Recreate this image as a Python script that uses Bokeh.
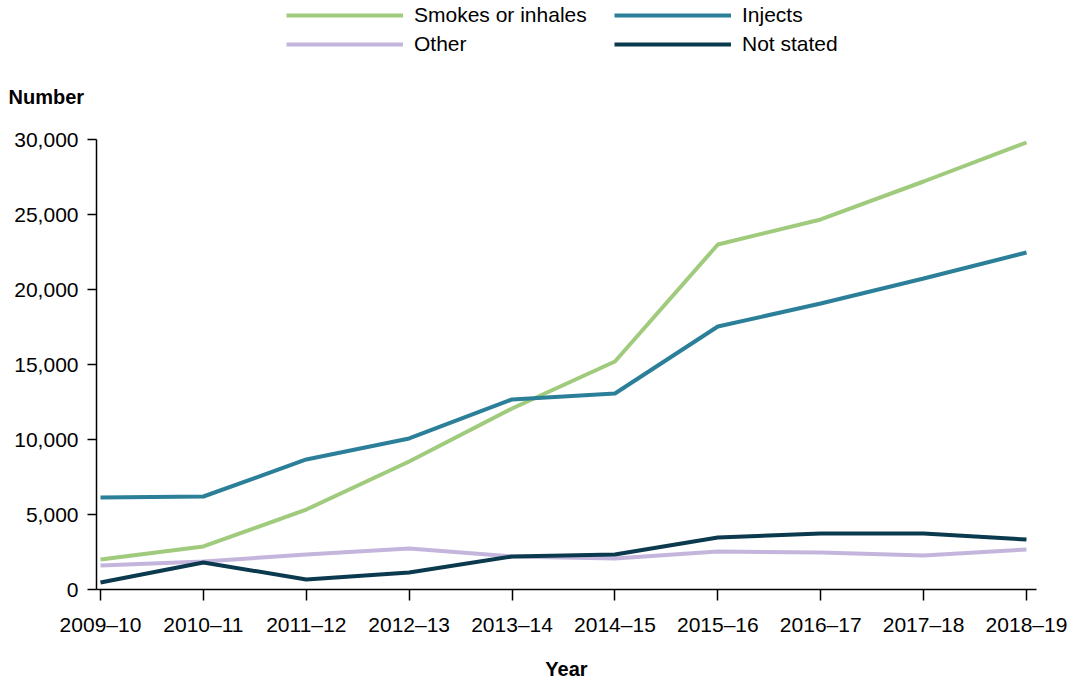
from bokeh.plotting import figure
from bokeh.models import Range1d, FixedTicker, NumeralTickFormatter, Legend, LegendItem, Label
from bokeh.embed import file_html
from bokeh.resources import INLINE

years = ["2009–10", "2010–11", "2011–12", "2012–13", "2013–14",
         "2014–15", "2015–16", "2016–17", "2017–18", "2018–19"]
smokes = [2000, 2870, 5330, 8530, 12070, 15200, 23000, 24670, 27200, 29800]
injects = [6130, 6200, 8670, 10070, 12670, 13070, 17530, 19070, 20730, 22470]
other = [1600, 1870, 2330, 2730, 2200, 2070, 2530, 2470, 2270, 2670]
not_stated = [470, 1800, 670, 1130, 2200, 2330, 3470, 3730, 3730, 3330]
y_ticks = [0, 5000, 10000, 15000, 20000, 25000, 30000]

series = [("Smokes or inhales", smokes, "#a0cb7d"),
          ("Injects", injects, "#2b7f98"),
          ("Other", other, "#c4b5dd"),
          ("Not stated", not_stated, "#0b3a4e")]
# legend fills column by column: first column, then second
legend_order = ["Smokes or inhales", "Other", "Injects", "Not stated"]

FONT = "Liberation Sans"
xs = list(range(len(years)))

W, H = 1071, 684
# pixel layout: first category at px 100, last at px 1026; y=0 at px 589, 30000 at px 139
PX_FIRST, PX_LAST, PY_ZERO, PY_TOP = 100.0, 1026.0, 589.0, 139.0
ppx = (PX_LAST - PX_FIRST) / (len(years) - 1)
ppy = (PY_ZERO - PY_TOP) / 30000.0
def dx(px):
    return (px - PX_FIRST) / ppx
def dy(py):
    return (PY_ZERO - py) / ppy

p = figure(width=W, height=H, output_backend="svg", toolbar_location=None,
           x_range=Range1d(dx(0), dx(W)), y_range=Range1d(dy(H), dy(0)),
           min_border_left=0, min_border_right=0, min_border_top=0, min_border_bottom=0)
p.outline_line_color = None
p.xgrid.visible = False
p.ygrid.visible = False

items = {}
for name, vals, col in series:
    r = p.line(xs, vals, line_color=col, line_width=4)
    items[name] = r

for ax in (p.xaxis[0], p.yaxis[0]):
    ax.axis_line_color = "black"
    ax.axis_line_width = 1.5
    ax.major_tick_line_color = "black"
    ax.major_tick_line_width = 1.5
    ax.major_tick_in = 0
    ax.minor_tick_line_color = None
    ax.major_label_text_font = FONT
    ax.major_label_text_font_size = "21px"
    ax.major_label_text_color = "black"

p.xaxis.ticker = FixedTicker(ticks=xs)
p.xaxis.major_label_overrides = {i: y for i, y in enumerate(years)}
p.xaxis.major_tick_out = 11
p.xaxis.major_label_standoff = 12
p.xaxis.fixed_location = 0
p.xaxis.bounds = (dx(96), dx(1036))

p.yaxis.ticker = FixedTicker(ticks=y_ticks)
p.yaxis.formatter = NumeralTickFormatter(format="0,0")
p.yaxis.major_tick_out = 9
p.yaxis.major_label_standoff = 9
p.yaxis.fixed_location = dx(96)
p.yaxis.bounds = (0, 30000)

p.add_layout(Label(x=dx(8), y=dy(96), text="Number",
                   text_font=FONT, text_font_style="bold", text_font_size="20px",
                   text_baseline="middle", text_align="left", text_color="black"))
p.add_layout(Label(x=dx(566), y=dy(668), text="Year",
                   text_font=FONT, text_font_style="bold", text_font_size="20px",
                   text_baseline="middle", text_align="center", text_color="black"))

legend = Legend(items=[LegendItem(label=n, renderers=[items[n]]) for n in legend_order],
                location=(286, H - 56), ncols=2, orientation="vertical",
                padding=0, margin=0, spacing=5, label_standoff=11,
                glyph_width=117, glyph_height=20, label_height=20, label_width=195,
                border_line_color=None, background_fill_alpha=0,
                label_text_font=FONT, label_text_font_size="21px", label_text_color="black")
p.add_layout(legend, "center")

open("out.html", "w").write(file_html(p, INLINE))
